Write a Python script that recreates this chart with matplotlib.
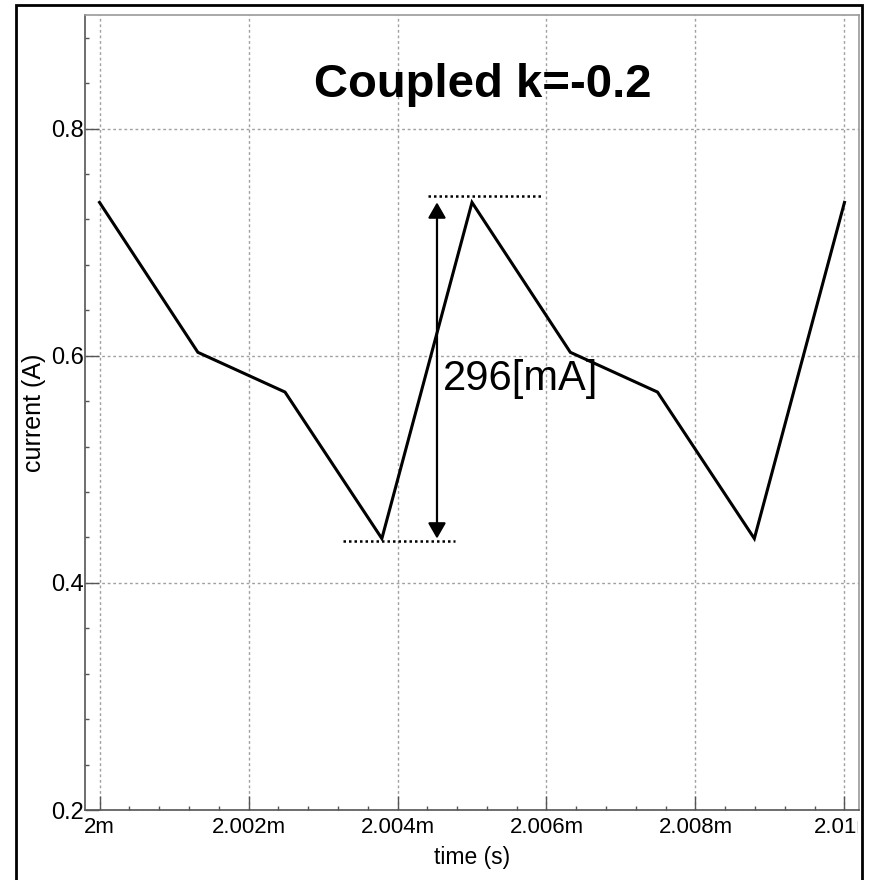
import matplotlib
matplotlib.use("Agg")
import matplotlib.pyplot as plt
from matplotlib.patches import Rectangle
from matplotlib.transforms import Bbox, TransformedBbox

# ---- data (time in ms, current in A) ----
time_ms = [2.0000, 2.00132, 2.00249, 2.00379, 2.00500, 2.00632, 2.00749, 2.00879, 2.01000]
current_A = [0.735, 0.603, 0.568, 0.439, 0.735, 0.603, 0.568, 0.439, 0.735]

x_ticks = [2.000, 2.002, 2.004, 2.006, 2.008, 2.010]
x_tick_labels = ["2m", "2.002m", "2.004m", "2.006m", "2.008m", "2.01m"]
y_ticks = [0.2, 0.4, 0.6, 0.8]
y_tick_labels = ["0.2", "0.4", "0.6", "0.8"]

title_text = "Coupled k=-0.2"
x_label = "time (s)"
y_label = "current (A)"

REG = ["Liberation Sans", "DejaVu Sans"]

fig = plt.figure(figsize=(8.7, 8.8), dpi=100)
ax = fig.add_axes([85/870, 1-810/880, (859-85)/870, (810-15)/880])

ax.plot(time_ms, current_A, color="black", lw=2.2, solid_joinstyle="miter", zorder=3)

ax.set_xlim(1.999805, 2.010195)
ax.set_ylim(0.2, 0.9)

ax.set_xticks(x_ticks)
ax.set_xticklabels(x_tick_labels, family=REG, fontsize=16)
ax.set_yticks(y_ticks)
ax.set_yticklabels(y_tick_labels, family=REG, fontsize=17)
ax.set_xticks([2.0 + 0.0004*i for i in range(26) if i % 5 != 0], minor=True)
ax.set_yticks([0.2 + 0.04*i for i in range(18) if i % 5 != 0], minor=True)

ax.tick_params(which="major", direction="in", length=10, width=1.0, color="#555555")
ax.tick_params(axis="x", which="major", pad=5)
ax.tick_params(axis="y", which="major", pad=1)
ax.tick_params(which="minor", direction="in", length=3, width=1.0, color="#555555")

ax.grid(True, which="major", color="#a0a0a0", linestyle=(0, (2, 2)), lw=1.0)

for s in ["left", "bottom"]:
    ax.spines[s].set_color("#555555")
    ax.spines[s].set_linewidth(1.2)
for s in ["top", "right"]:
    ax.spines[s].set_color("#999999")
    ax.spines[s].set_linewidth(1.2)

ax.set_xlabel(x_label, family=REG, fontsize=16.5, labelpad=6)
ax.set_ylabel(y_label, family=REG, fontsize=18)
ax.yaxis.set_label_coords(-0.051, 0.5)

# title inside plot
ax.text(0.5136, 1-(97-15)/795, title_text, transform=ax.transAxes, ha="center",
        va="baseline", family=REG, fontsize=34, fontweight="bold")

# peak-to-peak annotation
peak = max(current_A)
trough = min(current_A)
ax.plot([2.00441, 2.00594], [peak + 0.006, peak + 0.006], color="black", lw=1.8,
        linestyle=(0, (1, 1.2)))
ax.plot([2.00327, 2.00477], [trough - 0.002, trough - 0.002], color="black", lw=1.8,
        linestyle=(0, (1, 1.2)))
ax.annotate("", xy=(2.00453, peak), xytext=(2.00453, trough),
            arrowprops=dict(arrowstyle="<|-|>,head_length=0.47,head_width=0.27",
                            mutation_scale=20, lw=1.6, color="black",
                            shrinkA=0, shrinkB=0))
ax.text(2.00461, 0.5697, f"{round((peak - trough)*1000)}[mA]", ha="left", va="baseline",
        family=REG, fontsize=30)

# outer black frame
fig.patches.append(Rectangle((16/870, -0.02), (862-16)/870, 1.02 - 5/880,
                             transform=fig.transFigure, fill=False,
                             edgecolor="black", lw=2.0, zorder=10))

# clip last x tick label at the frame, as in the reference
clip = TransformedBbox(Bbox([[0, 0], [858/870, 1]]), fig.transFigure)
lbl = ax.get_xticklabels()[-1]
lbl.set_clip_box(clip)
lbl.set_clip_on(True)

fig.savefig("out.png", dpi=100)
